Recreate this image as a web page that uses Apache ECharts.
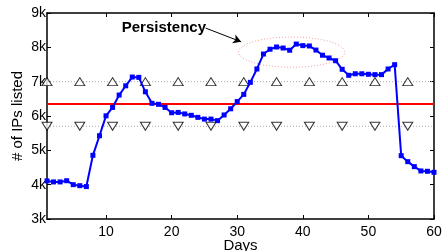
<!DOCTYPE html>
<html>
<head>
<meta charset="utf-8">
<script src="https://cdn.jsdelivr.net/npm/echarts@6/dist/echarts.min.js"></script>
<style>
  html, body { margin: 0; padding: 0; background: #fff; }
  #main { width: 442px; height: 251px; }
</style>
</head>
<body>
<div id="main"></div>
<script>
// values
const days = [];
for (let d = 1; d <= 60; d++) days.push(d);
const listed = [
  4110, 4080, 4080, 4115, 4000, 3970, 3945, 4855, 5425, 6005,
  6250, 6610, 6880, 7135, 7125, 6705, 6370, 6340, 6250, 6095,
  6105, 6060, 6020, 5960, 5910, 5910, 5865, 6030, 6210, 6420,
  6630, 6980, 7370, 7805, 7945, 8010, 7980, 7915, 8095, 8050,
  8040, 7920, 7770, 7690, 7610, 7360, 7185, 7230, 7230, 7215,
  7205, 7205, 7370, 7495, 4845, 4670, 4525, 4400, 4390, 4360
];
const meanLevel = 6350;
const upperLevel = 7000;
const lowerLevel = 5700;
const markerDays = [1, 6, 11, 16, 21, 26, 31, 36, 41, 46, 51, 56];
const xTicks = [10, 20, 30, 40, 50, 60];

const font = 'Liberation Sans, Arial, Helvetica, sans-serif';
const lineData = days.map((d, i) => [d, listed[i]]);
const span = v => [[1, v], [60, v]];

let myChart = echarts.init(document.getElementById('main'));

const tickCommon = { show: true, inside: true, length: 4, lineStyle: { color: '#000', width: 1 } };
const axisLineCommon = { show: true, lineStyle: { color: '#000', width: 1.5 } };

let option = {
  animation: false,
  backgroundColor: '#fff',
  grid: { left: 47, right: 8, top: 13, bottom: 32, outerBoundsMode: 'none', containLabel: false },
  xAxis: [
    {
      type: 'value', min: 1, max: 60,
      name: 'Days', nameLocation: 'middle', nameGap: 19, nameMoveOverlap: false,
      nameTextStyle: { color: '#000', fontSize: 15, fontFamily: font },
      axisLine: axisLineCommon,
      axisTick: Object.assign({ customValues: xTicks }, tickCommon),
      axisLabel: { customValues: xTicks, color: '#000', fontSize: 14, fontFamily: font, margin: 6 },
      splitLine: { show: false }
    },
    {
      type: 'value', min: 1, max: 60, position: 'top',
      axisLine: axisLineCommon,
      axisTick: Object.assign({ customValues: xTicks }, tickCommon),
      axisLabel: { show: false },
      splitLine: { show: false }
    }
  ],
  yAxis: [
    {
      type: 'value', min: 3000, max: 9000, interval: 1000,
      name: '# of IPs listed', nameLocation: 'middle', nameGap: 22, nameMoveOverlap: false,
      nameTextStyle: { color: '#000', fontSize: 15, fontFamily: font },
      axisLine: axisLineCommon,
      axisTick: tickCommon,
      axisLabel: { color: '#000', fontSize: 14, fontFamily: font, margin: 1,
        formatter: v => (v / 1000) + 'k' },
      splitLine: { show: false }
    },
    {
      type: 'value', min: 3000, max: 9000, interval: 1000, position: 'right',
      axisLine: axisLineCommon,
      axisTick: tickCommon,
      axisLabel: { show: false },
      splitLine: { show: false }
    }
  ],
  series: [
    {
      type: 'line', data: span(upperLevel), symbol: 'none', silent: true,
      lineStyle: { color: '#aaa', width: 1, type: [1, 2] }, z: 1
    },
    {
      type: 'line', data: span(lowerLevel), symbol: 'none', silent: true,
      lineStyle: { color: '#aaa', width: 1, type: [1, 2] }, z: 1
    },
    {
      type: 'line', data: span(meanLevel), symbol: 'none', silent: true,
      lineStyle: { color: '#ff0000', width: 2 }, z: 2
    },
    {
      type: 'scatter', data: markerDays.map(d => [d, upperLevel]),
      symbol: 'triangle', symbolSize: [10, 8],
      itemStyle: { color: '#fff', borderColor: '#000', borderWidth: 1 }, z: 3
    },
    {
      type: 'scatter', data: markerDays.map(d => [d, lowerLevel]),
      symbol: 'triangle', symbolSize: [10, 8], symbolRotate: 180,
      itemStyle: { color: '#fff', borderColor: '#000', borderWidth: 1 }, z: 3
    },
    {
      type: 'line', data: lineData,
      symbol: 'rect', symbolSize: 5, showSymbol: true,
      lineStyle: { color: '#0000ff', width: 2 },
      itemStyle: { color: '#0000ff' }, z: 5,
      markLine: {
        silent: true, symbol: ['none', 'arrow'], symbolSize: [7, 8],
        label: { show: false },
        lineStyle: { color: '#000', width: 1, type: 'solid' },
        data: [[{ coord: [25.2, 8560] }, { coord: [30.6, 8160] }]]
      }
    }
  ]
};
myChart.setOption(option);

// annotation: ellipse around the plateau and the label
const c = myChart.convertToPixel({ gridIndex: 0 }, [38.3, 7860]);
const e = myChart.convertToPixel({ gridIndex: 0 }, [46.4, 7420]);
const t = myChart.convertToPixel({ gridIndex: 0 }, [12.4, 8560]);
myChart.setOption({
  graphic: [
    {
      type: 'ellipse', silent: true, z: 4,
      shape: { cx: c[0], cy: c[1], rx: e[0] - c[0], ry: e[1] - c[1] },
      style: { fill: 'none', stroke: '#f4a0a0', lineWidth: 1, lineDash: [1, 2] }
    },
    {
      type: 'text', silent: true, z: 6, x: t[0], y: t[1],
      style: { text: 'Persistency', fill: '#000', font: 'bold 15px ' + font,
        verticalAlign: 'middle', align: 'left' }
    }
  ]
});
</script>
</body>
</html>
